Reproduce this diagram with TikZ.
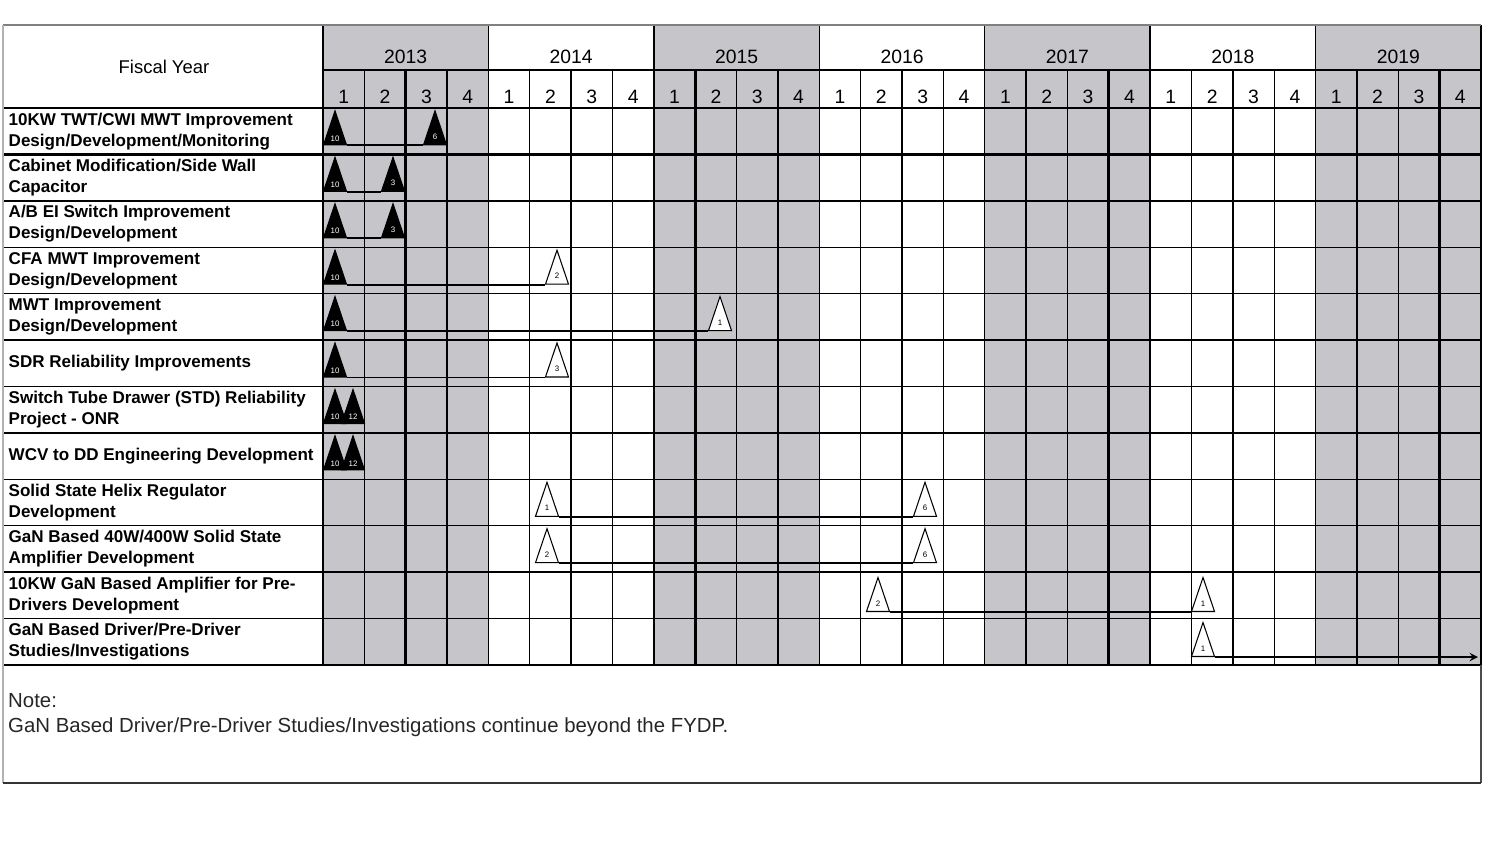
\documentclass[tikz,border=0pt]{standalone}
\usepackage{fontspec}
\setmainfont{Liberation Sans}
\usetikzlibrary{shapes.geometric}
\definecolor{fygray}{RGB}{198,198,202}

\begin{document}
\begin{tikzpicture}[x=0.02cm,y=-0.02cm,>=stealth,font=\fontsize{11}{13}\selectfont,
    grid/.style={line width=0.8pt},
    mstone/.style={isosceles triangle,isosceles triangle apex angle=36,
        isosceles triangle stretches,shape border rotate=90,
        minimum width=0.46cm,minimum height=0.68cm,inner sep=0pt,
        draw,line width=0.6pt,anchor=lower side,font=\fontsize{4.5}{4.5}\selectfont},
    done/.style={mstone,fill=black,text=white},
    plan/.style={mstone,fill=white,text=black},
    task/.style={anchor=west,align=left,font=\fontsize{9.7}{12}\selectfont\bfseries},
    note/.style={anchor=west,text=black!85,font=\fontsize{11.6}{14}\selectfont}]
    \useasboundingbox (0,0) rectangle (1497,842);

    \foreach \k in {0,8,16,24}
        \fill[fygray] ({323+\k*41.357},25) rectangle ({323+(\k+4)*41.357},665);

    \foreach \k in {1,...,27}
        \draw[grid] ({323+\k*41.357},70) -- ({323+\k*41.357},665);
    \foreach \k in {0,4,...,28}
        \draw[grid] ({323+\k*41.357},25) -- ({323+\k*41.357},665);
    \foreach \k in {2,9,14,19,27}
        \draw[line width=1.5pt] ({323+\k*41.357},70) -- ({323+\k*41.357},665);
    \draw[grid] (323,70) -- (1481,70);
    \foreach \r in {0,2,3,...,12}
        \draw[grid] (3,{108+\r*46.417}) -- (1481,{108+\r*46.417});
    \draw[line width=1.8pt] (3,154.4) -- (1481,154.4);
    \draw[gray,line width=0.6pt] (3,25) -- (1481,25);
    \draw[gray!60,line width=0.6pt] (3,25) -- (3,783);
    \draw[black!70,line width=0.6pt] (1481,665) -- (1481,783);
    \draw[black!80,line width=0.8pt] (3,783) -- (1481,783);

    \node[font=\fontsize{10.5}{12}\selectfont] (fy) at (164,67) {Fiscal Year};
    \foreach \y [count=\i from 0] in {2013,...,2019}
        \node (yr\i) at ({323+(4*\i+2)*41.357},57) {\y};
    \foreach \k in {0,...,27}{
        \pgfmathtruncatemacro\q{mod(\k,4)+1}
        \node (q\k) at ({323+(\k+0.5)*41.357},97) {\q};
    }

    \foreach \t [count=\i from 0] in {
        {10KW TWT/CWI MWT Improvement\\Design/Development/Monitoring},
        {Cabinet Modification/Side Wall\\Capacitor},
        {A/B EI Switch Improvement\\Design/Development},
        {CFA MWT Improvement\\Design/Development},
        {MWT Improvement\\Design/Development},
        {SDR Reliability Improvements},
        {Switch Tube Drawer (STD) Reliability\\Project - ONR},
        {WCV to DD Engineering Development},
        {Solid State Helix Regulator\\Development},
        {GaN Based 40W/400W Solid State\\Amplifier Development},
        {10KW GaN Based Amplifier for Pre-\\Drivers Development},
        {GaN Based Driver/Pre-Driver\\Studies/Investigations}}
        \node[task] (task\i) at (2.5,{131.2+\i*46.417}) {\t};

    \node[done] (s1) at (335,145.4) {10};
    \node[done] (e1) at (435,145.4) {6};
    \node[done] (s2) at (335,191.8) {10};
    \node[done] (e2) at (393,191.8) {3};
    \node[done] (s3) at (335,238.3) {10};
    \node[done] (e3) at (393,238.3) {3};
    \node[done] (s4) at (335,284.7) {10};
    \node[plan] (e4) at (557,284.7) {2};
    \node[done] (s5) at (335,331.1) {10};
    \node[plan] (e5) at (720,331.1) {1};
    \node[done] (s6) at (335,377.5) {10};
    \node[plan] (e6) at (557,377.5) {3};
    \node[done] (s7) at (335,424) {10};
    \node[done] (e7) at (353,424) {12};
    \node[done] (s8) at (335,470.4) {10};
    \node[done] (e8) at (353,470.4) {12};
    \node[plan] (s9) at (547,516.8) {1};
    \node[plan] (e9) at (925,516.8) {6};
    \node[plan] (s10) at (547,563.2) {2};
    \node[plan] (e10) at (925,563.2) {6};
    \node[plan] (s11) at (878,612) {2};
    \node[plan] (e11) at (1203,612) {1};
    \node[plan] (s12) at (1203,657) {1};
    \coordinate (fydp) at (1478,657);

    \foreach \n in {1,2,3,4,5,6,9,10,11}
        \draw[line width=1.1pt] (s\n.right corner) -- (e\n.left corner);
    \draw[->,line width=1.1pt] (s12.right corner) -- (fydp);

    \node[note] (note) at (2,701) {Note:};
    \node[note] (notetext) at (2,727)
        {GaN Based Driver/Pre-Driver Studies/Investigations continue beyond the FYDP.};
\end{tikzpicture}
\end{document}
